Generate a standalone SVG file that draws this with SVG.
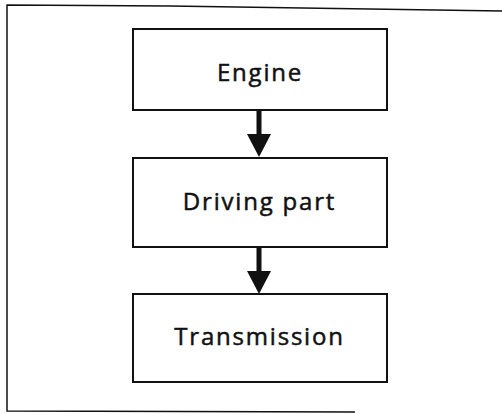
<svg xmlns="http://www.w3.org/2000/svg" width="502" height="414" viewBox="0 0 502 414">
  <style>
    .box { fill: #ffffff; stroke: #111111; stroke-width: 2; }
    .label { font-family: "Open Sans", "Liberation Sans", sans-serif; font-size: 24px; fill: #111111; text-anchor: middle; letter-spacing: 1.8px; stroke: #111111; stroke-width: 0.5; }
    .frame { fill: none; stroke: #111111; stroke-width: 1.5; }
    .shaft { stroke: #111111; stroke-width: 5; }
  </style>
  <rect width="502" height="414" fill="#ffffff"/>
  <!-- outer frame: open at the right side -->
  <path class="frame" d="M502,11 L170,6 L7,5 L7,411 L355,412"/>
  <g id="connectors">
    <line class="shaft" x1="259" y1="110" x2="259" y2="136"/>
    <path d="M247,134 L271,134 L259,157 Z" fill="#111111"/>
    <line class="shaft" x1="259" y1="247" x2="259" y2="273"/>
    <path d="M247,271 L271,271 L259,294 Z" fill="#111111"/>
  </g>
  <g id="engine">
    <rect class="box" x="133" y="29" width="254" height="81"/>
    <text class="label" x="260" y="81">Engine</text>
  </g>
  <g id="driving-part">
    <rect class="box" x="133" y="158" width="254" height="89"/>
    <text class="label" x="259.5" y="210">Driving part</text>
  </g>
  <g id="transmission">
    <rect class="box" x="133" y="294" width="254" height="88"/>
    <text class="label" x="259.5" y="345">Transmission</text>
  </g>
</svg>
